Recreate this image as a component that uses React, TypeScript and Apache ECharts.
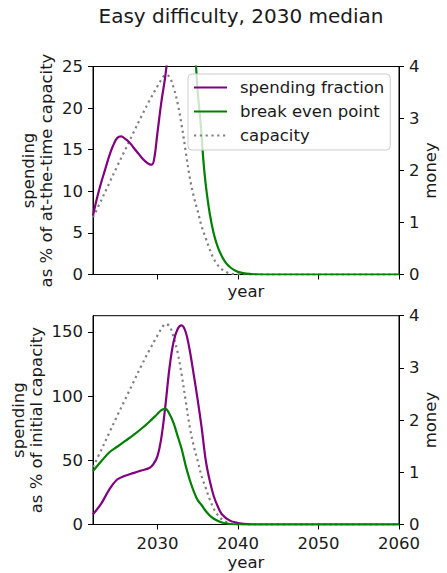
import React, { useEffect, useRef } from "react";
import * as echarts from "echarts";

// ---- data ----
const capYears = [2022, 2023, 2024, 2025, 2026, 2027, 2028, 2029, 2030, 2030.5, 2031, 2031.5, 2032, 2032.5, 2033, 2033.5, 2034, 2034.5, 2035, 2035.5, 2036, 2036.5, 2037, 2037.5, 2038, 2039, 2040, 2041, 2045, 2050, 2055, 2060];
const capacity = [1.1, 1.42, 1.75, 2.08, 2.4, 2.72, 3.04, 3.34, 3.62, 3.75, 3.84, 3.8, 3.6, 3.3, 2.88, 2.38, 1.88, 1.51, 1.22, 0.92, 0.7, 0.48, 0.3, 0.18, 0.1, 0.02, 0.004, 0, 0, 0, 0, 0];

// top: spending as % of at-the-time capacity
const fracYears = [2022, 2022.5, 2023, 2023.5, 2024, 2024.5, 2025, 2025.5, 2026, 2026.5, 2027, 2027.5, 2028, 2028.5, 2029, 2029.3, 2029.6, 2030, 2030.5, 2031, 2031.5, 2032];
const spendingFraction = [7.1, 9.2, 11.0, 12.6, 14.2, 15.5, 16.4, 16.6, 16.3, 15.9, 15.3, 14.7, 14.1, 13.6, 13.25, 13.2, 13.9, 17.0, 20.8, 24.0, 28.5, 36];

const beFracYears = [2034, 2034.5, 2034.8, 2035, 2035.4, 2035.7, 2036, 2036.5, 2037, 2037.5, 2038, 2038.5, 2039, 2039.5, 2040, 2041, 2042, 2045, 2050, 2060];
const breakEvenFraction = [40, 30, 25, 22, 17.8, 13.8, 10.8, 7.3, 4.9, 3.3, 2.2, 1.4, 0.9, 0.55, 0.32, 0.1, 0.03, 0, 0, 0];

// bottom: spending as % of initial capacity
const spendYears = [2022, 2023, 2024, 2025, 2026, 2027, 2028, 2029, 2029.5, 2030, 2030.5, 2031, 2031.5, 2032, 2032.5, 2033, 2033.5, 2034, 2034.5, 2035, 2035.5, 2036, 2036.5, 2037, 2037.5, 2038, 2039, 2040, 2041, 2042, 2050, 2060];
const spendingInitial = [8, 16, 27, 35, 38, 40, 42, 44, 47, 53, 68, 93, 122, 142, 152, 155, 150, 136, 117, 97, 75, 50, 34, 22, 14, 8, 3, 1.2, 0.3, 0, 0, 0];

const beYears = [2022, 2023, 2024, 2025, 2026, 2027, 2028, 2029, 2030, 2030.5, 2031, 2031.5, 2032, 2032.5, 2033, 2033.5, 2034, 2034.5, 2035, 2035.5, 2036, 2036.5, 2037, 2038, 2039, 2040, 2041, 2050, 2060];
const breakEvenInitial = [41.6, 49, 56, 60.5, 65, 69.5, 74.5, 80, 86, 89, 90, 86, 79, 69, 59, 46, 35, 26, 19, 15, 10.5, 7, 4.5, 1.5, 0.4, 0.1, 0, 0, 0];

const xTicks = [2030, 2040, 2050, 2060];
const bottomLeftTicks = [0, 50, 100, 150];

const NAMES = ["spending fraction", "break even point", "capacity"];

const pairs = (xs: number[], ys: number[]) => xs.map((x, i) => [x, ys[i]]);

const FONT = "DejaVu Sans";
const FS = 16.5;
const TXT = "#1a1a1a";

export default function App() {
  const ref = useRef<HTMLDivElement>(null);

  useEffect(() => {
    if (!ref.current) return;
    const chart = echarts.init(ref.current, null, { renderer: "svg" });

    const axisCommon = {
      axisLine: { show: true, lineStyle: { color: "#000", width: 1 } },
      axisTick: { show: true, length: 5, lineStyle: { color: "#000", width: 1 } },
      splitLine: { show: false },
      axisLabel: { color: TXT, fontFamily: FONT, fontSize: FS, margin: 10, formatter: (v: number) => String(v) },
      nameTextStyle: { color: TXT, fontFamily: FONT, fontSize: FS },
    };

    const lineSeries = (name: string, color: string, data: number[][], xi: number, yi: number, dotted = false) => ({
      type: "line",
      name,
      data,
      xAxisIndex: xi,
      yAxisIndex: yi,
      symbol: "none",
      smooth: 0.35,
      clip: true,
      lineStyle: dotted
        ? { color, width: 2.2, type: [2.2, 3.6] }
        : { color, width: 2.2 },
      itemStyle: { color },
      z: dotted ? 2 : 3,
    });

    chart.setOption({
      animation: false,
      backgroundColor: "#fff",
      textStyle: { fontFamily: FONT },
      graphic: [
        {
          type: "text",
          x: 241,
          y: 16,
          style: {
            text: "Easy difficulty, 2030 median",
            font: `20px '${FONT}'`,
            fill: TXT,
            textAlign: "center",
            textVerticalAlign: "middle",
          },
        },
      ],
      legend: {
        data: NAMES,
        orient: "vertical",
        left: 188,
        top: 74,
        itemWidth: 33,
        itemHeight: 14,
        itemGap: 7,
        padding: [5, 6, 6, 5],
        backgroundColor: "rgba(255,255,255,0.8)",
        borderColor: "#cccccc",
        borderWidth: 1,
        borderRadius: 4,
        itemStyle: { opacity: 0, borderWidth: 0 },
        textStyle: { color: TXT, fontFamily: FONT, fontSize: FS, padding: [0, 0, 0, 8] },
        z: 10,
      },
      grid: [
        { left: 93, right: 46, top: 66.5, height: 208, show: true, borderColor: "#000", borderWidth: 1, backgroundColor: "transparent" },
        { left: 93, right: 46, top: 315.7, height: 208.8, show: true, borderColor: "#000", borderWidth: 1, backgroundColor: "transparent" },
      ],
      xAxis: [
        {
          ...axisCommon,
          type: "value",
          gridIndex: 0,
          min: 2022,
          max: 2060,
          axisTick: { ...axisCommon.axisTick, customValues: xTicks },
          axisLabel: { show: false },
          name: "year",
          nameLocation: "middle",
          nameGap: 8,
        },
        {
          ...axisCommon,
          type: "value",
          gridIndex: 1,
          min: 2022,
          max: 2060,
          axisTick: { ...axisCommon.axisTick, customValues: xTicks },
          axisLabel: { ...axisCommon.axisLabel, customValues: xTicks },
          name: "year",
          nameLocation: "middle",
          nameGap: 29,
        },
      ],
      yAxis: [
        {
          ...axisCommon,
          type: "value",
          gridIndex: 0,
          position: "left",
          min: 0,
          max: 25,
          interval: 5,
          name: "spending\nas % of at-the-time capacity",
          nameLocation: "middle",
          nameRotate: 90,
          nameGap: 38,
          nameMoveOverlap: false,
          nameTextStyle: { ...axisCommon.nameTextStyle, lineHeight: 18 },
        },
        {
          ...axisCommon,
          type: "value",
          gridIndex: 0,
          position: "right",
          min: 0,
          max: 4,
          interval: 1,
          name: "money",
          nameLocation: "middle",
          nameRotate: 90,
          nameGap: 23,
          nameMoveOverlap: false,
        },
        {
          ...axisCommon,
          type: "value",
          gridIndex: 1,
          position: "left",
          min: 0,
          max: 162.5,
          axisTick: { ...axisCommon.axisTick, customValues: bottomLeftTicks },
          axisLabel: { ...axisCommon.axisLabel, customValues: bottomLeftTicks },
          name: "spending\nas % of initial capacity",
          nameLocation: "middle",
          nameRotate: 90,
          nameGap: 48,
          nameMoveOverlap: false,
          nameTextStyle: { ...axisCommon.nameTextStyle, lineHeight: 18 },
        },
        {
          ...axisCommon,
          type: "value",
          gridIndex: 1,
          position: "right",
          min: 0,
          max: 4,
          interval: 1,
          name: "money",
          nameLocation: "middle",
          nameRotate: 90,
          nameGap: 23,
          nameMoveOverlap: false,
        },
      ],
      series: [
        lineSeries(NAMES[0], "#800080", pairs(fracYears, spendingFraction), 0, 0),
        lineSeries(NAMES[1], "#008000", pairs(beFracYears, breakEvenFraction), 0, 0),
        lineSeries(NAMES[2], "#808080", pairs(capYears, capacity), 0, 1, true),
        lineSeries(NAMES[0], "#800080", pairs(spendYears, spendingInitial), 1, 2),
        lineSeries(NAMES[1], "#008000", pairs(beYears, breakEvenInitial), 1, 2),
        lineSeries(NAMES[2], "#808080", pairs(capYears, capacity), 1, 3, true),
      ],
    });

    return () => chart.dispose();
  }, []);

  return (
    <div
      ref={ref}
      style={{ position: "fixed", left: 0, top: 0, width: 447, height: 573, background: "#fff" }}
    />
  );
}
